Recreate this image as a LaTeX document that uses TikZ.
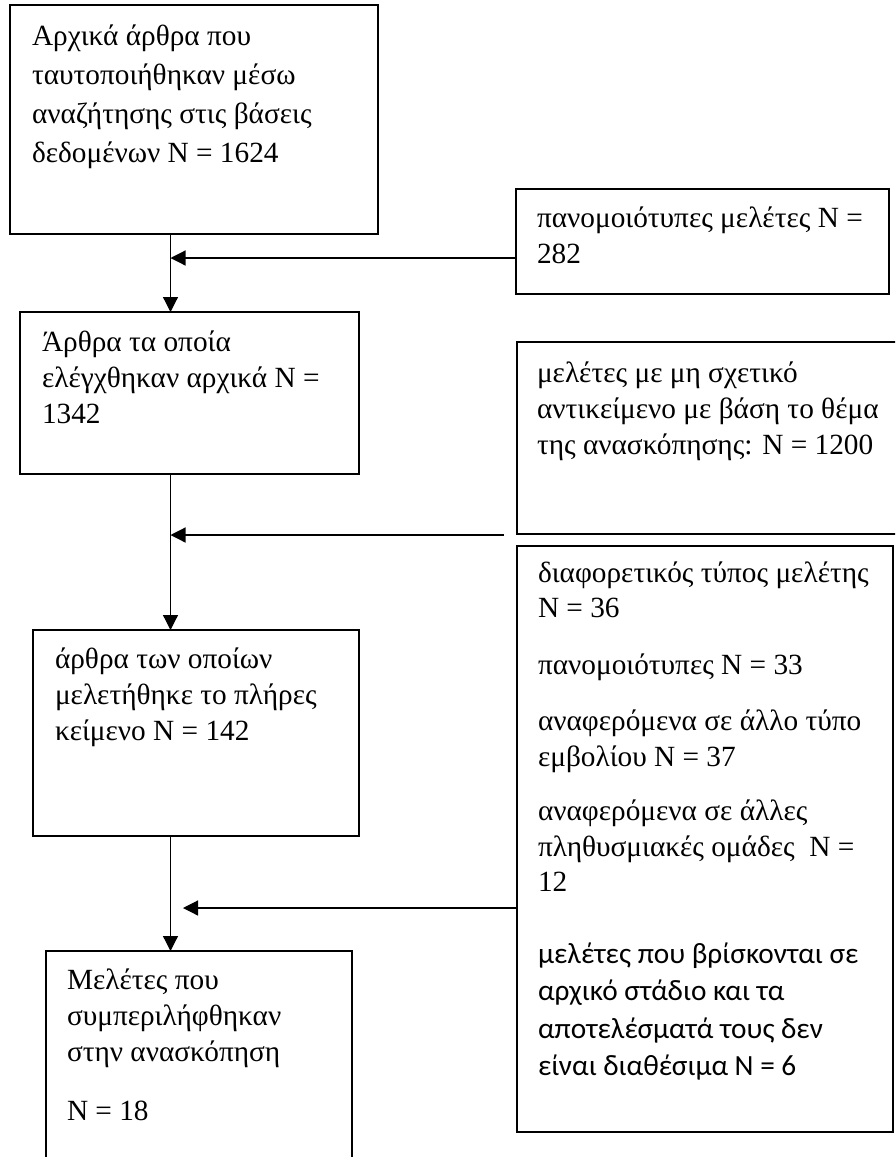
\documentclass[tikz,border=0pt]{standalone}
\usepackage{fontspec}
\setmainfont{Liberation Serif}
\newfontfamily\calibrifont{Carlito}
\usetikzlibrary{arrows.meta}
\newcommand\mlines[2][37pt]{\vtop{\baselineskip=#1\lineskiplimit=-100pt\halign{##\hfil\cr#2\crcr}}}
\newcommand\pgap[1]{\noalign{\vskip #1pt}}
\begin{document}
\begin{tikzpicture}[x=1pt,y=-1pt,
  box/.style={draw, line width=1.3pt, anchor=north west, inner sep=0pt, outer sep=0pt},
  txt/.style={anchor=base west, inner sep=0pt, outer sep=0pt, font=\fontsize{29.3}{37}\selectfont},
  conn/.style={line width=1.2pt, -{Triangle[length=15pt,width=15pt]}}]
\useasboundingbox (0,0) rectangle (895,1157);
\clip (0,0) rectangle (895,1157);
% boxes
\node[box, minimum width=368pt, minimum height=229pt] (A) at (10,5) {};
\node[box, minimum width=373pt, minimum height=105pt] (B) at (516,189) {};
\node[box, minimum width=339pt, minimum height=162pt] (C) at (20,312) {};
\node[box, minimum width=400pt, minimum height=192pt] (D) at (517,342) {};
\node[box, minimum width=326pt, minimum height=206pt] (E) at (33,630) {};
\node[box, minimum width=376pt, minimum height=586pt] (F) at (517,546) {};
\node[box, minimum width=306pt, minimum height=260pt] (G) at (46,951) {};
% texts
\node[txt] (tA) at (32,45) {\mlines[39pt]{Αρχικά άρθρα που\cr ταυτοποιήθηκαν μέσω\cr αναζήτησης στις βάσεις\cr δεδομένων N = 1624}};
\node[txt] (tB) at (537,227) {\mlines[36pt]{πανομοιότυπες μελέτες N =\cr 282}};
\node[txt] (tC) at (42,351) {\mlines[36pt]{Άρθρα τα οποία\cr ελέγχθηκαν αρχικά N =\cr 1342}};
\node[txt] (tD) at (537,382) {\mlines[36pt]{μελέτες με μη σχετικό\cr αντικείμενο με βάση το θέμα\cr της ανασκόπησης: N = 1200}};
\node[txt] (tE) at (55,668) {\mlines[36pt]{άρθρα των οποίων\cr μελετήθηκε το πλήρες\cr κείμενο N = 142}};
\node[txt] (tF) at (538,582) {\mlines[35.5pt]{διαφορετικός τύπος μελέτης\cr N = 36\cr\pgap{21}
  πανομοιότυπες N = 33\cr\pgap{21}
  αναφερόμενα σε άλλο τύπο\cr εμβολίου N = 37\cr\pgap{19}
  αναφερόμενα σε άλλες\cr πληθυσμιακές ομάδες\ \ N =\cr 12}};
\node[txt, font=\fontsize{29.3}{37}\calibrifont] (tF2) at (538,963) {\mlines[37.5pt]{μελέτες που βρίσκονται σε\cr αρχικό στάδιο και τα\cr αποτελέσματά τους δεν\cr είναι διαθέσιμα N = 6}};
\node[txt] (tG) at (67,989) {\mlines[36pt]{Μελέτες που\cr συμπεριλήφθηκαν\cr στην ανασκόπηση\cr\pgap{23} N = 18}};
% connectors
\coordinate (ax) at (170.5,0);
\coordinate (b1) at (0,258);
\coordinate (d1) at (504,535);
\coordinate (f1) at (0,908);
\coordinate (f2) at (183,908);
\draw[conn] (A.south -| ax) -- (C.north -| ax);
\draw[conn] (B.west |- b1) -- (ax |- b1);
\draw[conn] (C.south -| ax) -- (E.north -| ax);
\draw[conn] (d1) -- (ax |- d1);
\draw[conn] (E.south -| ax) -- (G.north -| ax);
\draw[conn] (F.west |- f1) -- (f2);
\end{tikzpicture}
\end{document}
